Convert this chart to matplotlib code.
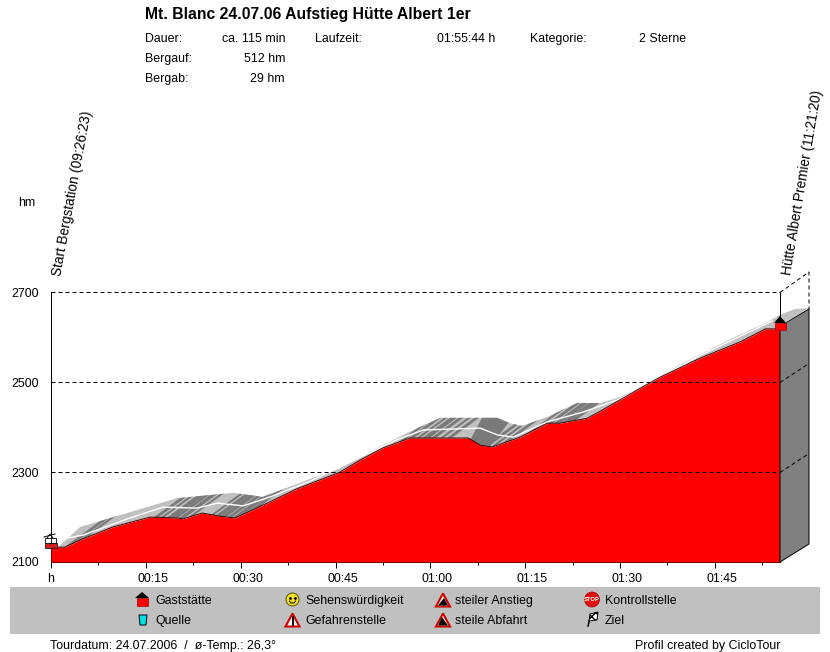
import numpy as np
import matplotlib
matplotlib.use('Agg')
import matplotlib.pyplot as plt
from matplotlib.patches import Polygon, Rectangle, Circle
from matplotlib.transforms import ScaledTranslation

plt.rcParams['font.family'] = ['Liberation Sans', 'DejaVu Sans']

# profile: minutes since start / elevation in hm
profile_min = [0, 2.2, 4.6, 9.8, 15.7, 19.9, 20.9, 23.9, 26.7, 29.1, 34.2, 38.9, 45.7, 48.9, 52.5, 56.8,
               63.1, 66, 67.9, 69.8, 74.2, 78.5, 80.5, 84.8, 86.9, 90, 93.2, 96.4, 102.7, 109, 113, 115.3]
profile_hm = [2133, 2133, 2149, 2178, 2200, 2198, 2196, 2209, 2202, 2198, 2231, 2263, 2300, 2327, 2354, 2376,
              2376, 2376, 2360, 2356, 2378, 2409, 2409, 2420, 2436, 2461, 2487, 2512, 2554, 2590, 2619, 2619]

# upper edge of the grey shadow band
band_min = [1.1, 4.6, 12.5, 19.9, 28.8, 33.5, 41, 45.7, 50.9, 57.3, 61.6, 70.6, 72.6, 74.5, 78.5, 83.2,
            86.9, 90, 94.8, 100, 107.9, 113.3, 115.3]
band_hm = [2133, 2178, 2211, 2242, 2254, 2245, 2285, 2309, 2349, 2394, 2421, 2421, 2409, 2403, 2423, 2454,
           2454, 2467, 2500, 2543, 2599, 2634, 2650]

# white line in the band
white_min = [0.9, 5.1, 12.5, 17.7, 23.1, 26.3, 30.4, 34.7, 41, 54.7, 58.9, 67.9, 70.6, 73.1, 78.5, 84.2,
             90, 102.7, 115.3]
white_hm = [2149, 2160, 2198, 2222, 2220, 2231, 2225, 2245, 2280, 2372, 2394, 2398, 2383, 2378, 2412, 2434,
            2463, 2560, 2645]

# dark stripes in the band (minute they cross the middle)
stripe_min = [5.1, 5.9, 19.1, 20.1, 21.4, 22.3, 23.3, 24.4, 27.5, 28.6, 29.6, 30.7, 31.8, 32.8,
              58.4, 59.3, 60.4, 61.6, 62.8, 64.1, 65.3, 71.5, 72.6, 73.7, 79.4, 80.5, 81.5, 82.4, 83.7, 85]
stripe_mid = [2160, 2160, 2225, 2225, 2225, 2225, 2225, 2225, 2225, 2225, 2225, 2225, 2225, 2225,
              2400, 2400, 2400, 2400, 2400, 2400, 2400, 2385, 2385, 2385, 2425, 2425, 2425, 2430, 2435, 2440]
stripe_lw = [2, 1.5, 2, 1.5, 3, 2, 2.5, 1.5, 1.5, 2.5, 3, 2, 3, 2, 1.5, 2, 1.5, 3, 2, 1.5, 2, 2, 1.5, 2,
             1.5, 2, 2, 1.5, 2.5, 2]

x_ticks = [0, 15, 30, 45, 60, 75, 90, 105]
x_labels = ['h', '00:15', '00:30', '00:45', '01:00', '01:15', '01:30', '01:45']
x_minor = [7.5, 22.5, 37.5, 52.5, 67.5, 82.5, 97.5, 112.5]
y_ticks = [2100, 2300, 2500, 2700]

RED = '#ff0000'
GREY = '#808080'
LIGHT = '#c0c0c0'
DARK = '#7a7a7a'
FS = 8.9
LW = 0.72
DASH = (4, 3)

fig = plt.figure(figsize=(8.3, 6.52), dpi=100)

# overlay in pixels for frame, header, legend icons
deco = fig.add_axes([0, 0, 1, 1])
deco.set_xlim(0, 830)
deco.set_ylim(652, 0)
deco.axis('off')
deco.set_zorder(3)

ax = fig.add_axes([51/830, 1-562/652, 729/830, 269.5/652], zorder=2)
ax.patch.set_alpha(0)
ax.set_xlim(0, 115.3)
ax.set_ylim(2100, 2700)
for s in ['top', 'right']:
    ax.spines[s].set_visible(False)
for s in ['left', 'bottom']:
    ax.spines[s].set_linewidth(LW)

# shadow band
band_poly = Polygon(list(zip(band_min, band_hm)) + list(zip(profile_min, profile_hm))[::-1],
                    closed=True, fc=LIGHT, ec='none', zorder=1)
ax.add_patch(band_poly)
for t, m, w in zip(stripe_min, stripe_mid, stripe_lw):
    ln, = ax.plot([t-6, t+6], [m-62, m+62], color=DARK, lw=w, solid_capstyle='butt', zorder=2)
    ln.set_clip_path(band_poly)
blob = Polygon([(65.5, 2350), (69, 2350), (73.5, 2430), (68.5, 2430)], closed=True, fc=DARK, ec='none', zorder=2)
ax.add_patch(blob)
blob.set_clip_path(band_poly)
ax.plot(white_min, white_hm, color='white', lw=1, zorder=3)

# red profile
ax.fill_between(profile_min, 2100, profile_hm, color=RED, lw=0, zorder=4)
ax.plot(profile_min, profile_hm, color='#400000', lw=LW, zorder=5)

# grid
for y in y_ticks[1:]:
    ax.plot([0, 115.3], [y, y], color='black', lw=LW, dashes=DASH, zorder=6, clip_on=False)

ax.set_xticks(x_ticks)
ax.set_xticklabels(x_labels, fontsize=FS)
ax.set_xticks(x_minor, minor=True)
ax.tick_params(axis='x', which='major', length=4, width=LW, pad=4)
ax.tick_params(axis='x', which='minor', length=2, width=LW)
ax.set_yticks(y_ticks)
ax.set_yticklabels([str(y) for y in y_ticks], fontsize=FS)
ax.tick_params(axis='y', length=0, pad=8.4)
# time labels sit a little to the right of their tick
for lab in ax.get_xticklabels()[1:]:
    lab.set_transform(lab.get_transform() + ScaledTranslation(7/100, 0, fig.dpi_scale_trans))

# right hand 3d side
deco.add_patch(Polygon([(780, 326), (809, 309), (809, 544), (780, 562)], closed=True, fc=GREY, ec='black', lw=LW))
deco.add_patch(Polygon([(772, 320), (782, 314), (795, 309), (809, 308), (780, 326)], closed=True, fc=LIGHT, ec='none'))
deco.plot([780, 780], [292, 326], color='black', lw=LW)
for y in [382.5, 472.5]:
    deco.plot([780, 809], [y, y-19], color='black', lw=LW, dashes=DASH)
deco.plot([780, 809, 809], [292.5, 272, 309], color='black', lw=LW, dashes=DASH)

# legend band
deco.add_patch(Rectangle((10, 587), 810, 47, fc=LIGHT, ec='none'))


def house(x, y):
    deco.add_patch(Rectangle((x-5.5, y-1), 11, 8, fc=RED, ec='#a00000', lw=0.5, zorder=8))
    deco.add_patch(Polygon([(x-7, y-1), (x, y-7), (x+7, y-1)], closed=True, fc='black', ec='none', zorder=8))


def warn(x, y, inner):
    deco.add_patch(Polygon([(x-7, y+6.5), (x, y-6.5), (x+7, y+6.5)], closed=True, fc='white', ec='#d00000', lw=1.5, zorder=8))
    if inner == 'up':
        deco.add_patch(Polygon([(x-5, y+5.5), (x+1, y-2), (x+5, y+5.5)], closed=True, fc='black', ec='none', zorder=9))
    elif inner == 'down':
        deco.add_patch(Polygon([(x-5, y+5.5), (x-1, y-3), (x+5, y+5.5)], closed=True, fc='black', ec='none', zorder=9))
    else:
        deco.plot([x, x], [y-3, y+2], color='black', lw=1.3, zorder=9)
        deco.plot([x, x], [y+3, y+5], color='black', lw=1.3, zorder=9)


# legend icons
house(142, 599)
deco.add_patch(Polygon([(139, 615), (147, 615), (146, 625), (140, 625)], closed=True, fc='#00e0e0', ec='black', lw=0.7, zorder=8))
deco.add_patch(Circle((292.5, 599.5), 6.5, fc='#f0e020', ec='#505000', lw=0.7, zorder=8))
deco.plot([290, 295], [597.5, 597.5], ls='none', marker='.', ms=2, color='black', zorder=9)
deco.plot([289.5, 291, 294, 295.5], [601, 603, 603, 601], color='black', lw=0.7, zorder=9)
warn(292.5, 620, 'bang')
warn(443, 600, 'up')
warn(443, 620, 'down')
deco.add_patch(Circle((592, 599.5), 7.5, fc='#e01010', ec='#a00000', lw=0.5, zorder=8))
deco.text(592, 599.7, 'STOP', fontsize=4.2, fontweight='bold', color='white', ha='center', va='center', zorder=9)
deco.plot([588, 591], [626, 614], color='black', lw=1.1, zorder=8)
deco.add_patch(Polygon([(590, 614), (598, 612), (597, 620), (589, 621)], closed=True, fc='white', ec='black', lw=0.7, hatch='xxxx', zorder=8))

# start and end symbols on the profile
deco.add_patch(Rectangle((44.5, 542.5), 12, 5, fc='#d02020', ec='black', lw=0.5, zorder=8))
deco.add_patch(Rectangle((45, 538), 11, 4.5, fc='white', ec='black', lw=0.6, zorder=8))
deco.plot([50.5, 50.5], [538, 542], color='black', lw=0.6, zorder=9)
deco.plot([44, 55], [537, 534], color='black', lw=0.7, zorder=8)
deco.plot([47, 50, 53], [538, 534, 538], color='black', lw=0.6, zorder=8)
deco.add_patch(Rectangle((775, 323), 11, 7, fc=RED, ec='#a00000', lw=0.5, zorder=8))
deco.add_patch(Polygon([(774, 323), (780, 316), (786, 323)], closed=True, fc='black', ec='none', zorder=8))

# legend text
legend_rows = [(155, 604, 'Gaststätte'), (155, 624, 'Quelle'), (305, 604, 'Sehenswürdigkeit'),
               (305, 624, 'Gefahrenstelle'), (455, 604, 'steiler Anstieg'), (455, 624, 'steile Abfahrt'),
               (605, 604, 'Kontrollstelle'), (605, 624, 'Ziel')]
for x, y, s in legend_rows:
    deco.text(x, y, s, fontsize=FS, ha='left', va='baseline')

# header
deco.text(145, 18.5, 'Mt. Blanc 24.07.06 Aufstieg Hütte Albert 1er', fontsize=11.3, fontweight='bold', ha='left', va='baseline')
for x, y, s in [(145, 42, 'Dauer:'), (145, 62, 'Bergauf:'), (145, 82, 'Bergab:'),
                (315, 42, 'Laufzeit:'), (530, 42, 'Kategorie:'), (639, 42, '2 Sterne')]:
    deco.text(x, y, s, fontsize=FS, ha='left', va='baseline')
for x, y, s in [(285, 42, 'ca. 115 min'), (285, 62, '512 hm'), (285, 82, '29 hm'), (495, 42, '01:55:44 h')]:
    deco.text(x, y, s, fontsize=FS, ha='right', va='baseline')

deco.text(18, 206, 'hm', fontsize=FS, ha='left', va='baseline')
deco.text(50, 274, 'Start Bergstation (09:26:23)', fontsize=9.8, rotation=79.5,
          rotation_mode='anchor', ha='left', va='top')
deco.text(780, 274, 'Hütte Albert Premier (11:21:20)', fontsize=9.8, rotation=80.5,
          rotation_mode='anchor', ha='left', va='top')

# footer
deco.text(50, 649, 'Tourdatum: 24.07.2006  /  ø-Temp.: 26,3°', fontsize=FS, ha='left', va='baseline')
deco.text(780, 649, 'Profil created by CicloTour', fontsize=FS, ha='right', va='baseline')

fig.savefig('out.png', dpi=100)
